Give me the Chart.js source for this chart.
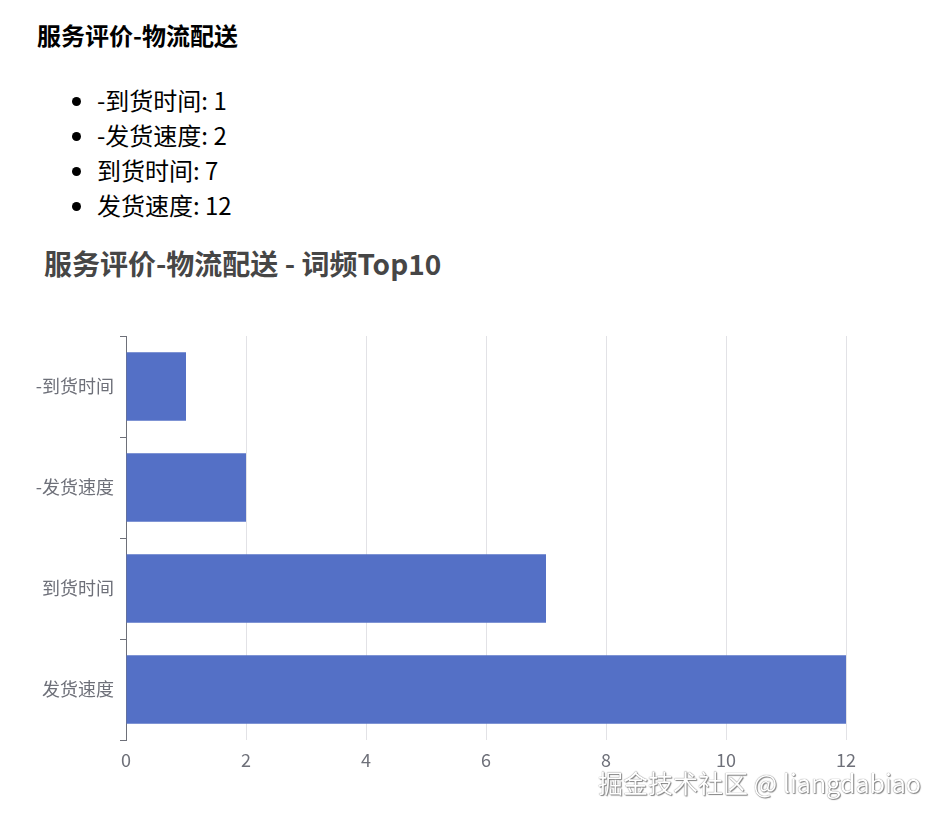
<!DOCTYPE html>
<html>
<head>
<meta charset="utf-8">
<script src="https://cdn.jsdelivr.net/npm/chart.js@4/dist/chart.umd.min.js"></script>
<style>
  body { margin: 0; background: #fff; font-family: "Noto Sans CJK SC", "Noto Sans", sans-serif; }
  #heading { position: absolute; left: 37px; top: 17px; font-size: 24px; font-weight: bold; color: #000; line-height: 36px; }
  #items { position: absolute; left: 0; top: 82px; margin: 0; padding-left: 97px; font-size: 24px; line-height: 35px; color: #000; }
  #ctitle { position: absolute; left: 44px; top: 244px; font-size: 28px; font-weight: bold; color: #464646; line-height: 38px; white-space: nowrap; }
  #wrap { position: absolute; left: 0; top: 240px; width: 946px; height: 560px; }
  #mark { position: absolute; left: 598px; top: 764px; font-size: 25px; line-height: 36px; color: #fff;
          text-shadow: 0 0 1px #555, 1px 1px 1px #888; white-space: nowrap; }
</style>
</head>
<body>
<div id="heading">服务评价-物流配送</div>
<ul id="items"></ul>
<div id="ctitle"></div>
<div id="wrap"><canvas id="chart"></canvas></div>
<div id="mark">掘金技术社区 @ liangdabiao</div>
<script>
const chartTitle = '服务评价-物流配送 - 词频Top10';
const words  = ['-到货时间', '-发货速度', '到货时间', '发货速度'];
const counts = [1, 2, 7, 12];

// liste au-dessus du graphique
const list = document.getElementById('items');
words.forEach((w, i) => {
  const li = document.createElement('li');
  li.textContent = w + ': ' + counts[i];
  list.appendChild(li);
});
document.getElementById('ctitle').textContent = chartTitle;

const axisGrey = '#6e7079';
const font = { family: '"Noto Sans CJK SC", sans-serif', size: 18 };
const ctx = document.getElementById('chart').getContext('2d');
new Chart(ctx, {
  type: 'bar',
  data: {
    labels: words,
    datasets: [{
      label: '词频',
      data: counts,
      backgroundColor: '#5470c6',
      categoryPercentage: 1,
      barPercentage: 0.68
    }]
  },
  options: {
    indexAxis: 'y',
    responsive: true,
    maintainAspectRatio: false,
    animation: false,
    layout: { padding: { left: 16, right: 100, top: 96, bottom: 20 } },
    plugins: {
      legend: { display: false },
      tooltip: { enabled: false },
      title: { display: false }
    },
    scales: {
      x: {
        min: 0,
        max: 12,
        ticks: { stepSize: 2, color: axisGrey, padding: 9, font },
        grid: { color: '#e2e2e6', drawTicks: false },
        border: { display: false },
        afterFit: s => { s.height = 40; }
      },
      y: {
        ticks: { color: axisGrey, padding: 6, font },
        grid: { offset: true, drawOnChartArea: false, tickLength: 6, color: axisGrey },
        border: { display: true, color: axisGrey },
        afterFit: s => { s.width = 110; }
      }
    }
  }
});
</script>
</body>
</html>
